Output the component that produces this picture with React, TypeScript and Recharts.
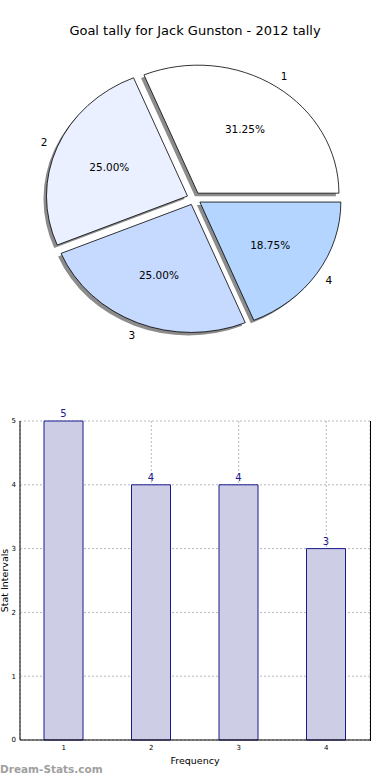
import React from 'react';
import { PieChart, Pie, Cell, BarChart, Bar, XAxis, YAxis, CartesianGrid, LabelList } from 'recharts';

const categories = ['1', '2', '3', '4'];
const goals = [5, 4, 4, 3];
const sliceColors = ['#ffffff', '#eaf0ff', '#c6d9ff', '#b3d5ff'];
const yTicks = [0, 1, 2, 3, 4, 5];
const titleText = 'Goal tally for Jack Gunston - 2012 tally';

const pieData = categories.map((c, i) => ({ name: c, value: goals[i] }));
const barData = categories.map((c, i) => ({ name: c, value: goals[i] }));
const total = goals.reduce((a, b) => a + b, 0);

const FONT = '"DejaVu Sans", sans-serif';
const Y_SCALE = 0.908;
const EXPLODE = 0.05;
const RAD = Math.PI / 180;

function ellipsePath(props: any, dx = 0, dy = 0) {
  const { cx, cy, outerRadius, startAngle, endAngle } = props;
  const rx = outerRadius;
  const ry = outerRadius * Y_SCALE;
  const mid = ((startAngle + endAngle) / 2) * RAD;
  const ox = cx + dx + EXPLODE * rx * Math.cos(mid);
  const oy = cy + dy - EXPLODE * ry * Math.sin(mid);
  const s = startAngle * RAD;
  const e = endAngle * RAD;
  const x1 = ox + rx * Math.cos(s);
  const y1 = oy - ry * Math.sin(s);
  const x2 = ox + rx * Math.cos(e);
  const y2 = oy - ry * Math.sin(e);
  const large = Math.abs(endAngle - startAngle) > 180 ? 1 : 0;
  return `M${ox},${oy} L${x1},${y1} A${rx},${ry} 0 ${large} 0 ${x2},${y2} Z`;
}

const SliceShape = (props: any) => (
  <path d={ellipsePath(props)} fill={props.fill} stroke="#000" strokeWidth={0.8} strokeLinejoin="round" />
);

const ShadowShape = (props: any) => (
  <path d={ellipsePath(props, -3, 3)} fill="#8c8c8c" stroke="none" />
);

const renderPieLabel = (props: any) => {
  const { cx, cy, outerRadius, midAngle, value, name } = props;
  const rx = outerRadius;
  const ry = outerRadius * Y_SCALE;
  const m = midAngle * RAD;
  const ox = cx + EXPLODE * rx * Math.cos(m);
  const oy = cy - EXPLODE * ry * Math.sin(m);
  const lx = ox + 1.1 * rx * Math.cos(m);
  const ly = oy - 1.1 * ry * Math.sin(m);
  const px = ox + 0.6 * rx * Math.cos(m);
  const py = oy - 0.6 * ry * Math.sin(m);
  const pct = ((value / total) * 100).toFixed(2) + '%';
  return (
    <g>
      <text x={lx} y={ly} textAnchor="middle" dominantBaseline="central" fontSize={10.5} fontFamily={FONT} fill="#000">{name}</text>
      <text x={px} y={py} textAnchor="middle" dominantBaseline="central" fontSize={10.5} fontFamily={FONT} fill="#000">{pct}</text>
    </g>
  );
};

export default function App() {
  return (
    <div style={{ position: 'absolute', left: 0, top: 0, width: 390, height: 780, background: '#fff', fontFamily: FONT }}>
      <div style={{ position: 'absolute', left: 0, top: 0 }}>
        <PieChart width={390} height={370} margin={{ top: 0, right: 0, bottom: 0, left: 0 }}>
          <text x={195} y={30} textAnchor="middle" dominantBaseline="central" fontSize={13} fontFamily={FONT} fill="#000">{titleText}</text>
          <Pie data={pieData} dataKey="value" nameKey="name" cx={194} cy={198.5} outerRadius={141} startAngle={0} endAngle={360}
            isAnimationActive={false} shape={ShadowShape} labelLine={false} label={false} stroke="none">
            {pieData.map((d, i) => <Cell key={'s' + i} fill="#8c8c8c" />)}
          </Pie>
          <Pie data={pieData} dataKey="value" nameKey="name" cx={194} cy={198.5} outerRadius={141} startAngle={0} endAngle={360}
            isAnimationActive={false} shape={SliceShape} labelLine={false} label={renderPieLabel}>
            {pieData.map((d, i) => <Cell key={'c' + i} fill={sliceColors[i]} />)}
          </Pie>
        </PieChart>
      </div>
      <div style={{ position: 'absolute', left: 0, top: 380 }}>
        <BarChart width={390} height={400} data={barData} margin={{ top: 41, right: 20, left: 0, bottom: 14 }} barCategoryGap={0}>
          <CartesianGrid stroke="#b8b8b8" strokeDasharray="2 2" />
          <XAxis dataKey="name" height={26} tickSize={0} tickMargin={5} axisLine={{ stroke: '#000' }}
            tick={{ fontSize: 7, fill: '#000', fontFamily: FONT }}
            label={{ value: 'Frequency', position: 'insideBottom', offset: 2, fontSize: 9.5, fill: '#000', fontFamily: FONT }} />
          <XAxis xAxisId="top" orientation="top" dataKey="name" height={0} tick={false} tickLine={false} axisLine={{ stroke: '#000' }} />
          <YAxis domain={[0, 5]} ticks={yTicks} width={20} tickSize={0} tickMargin={4} axisLine={{ stroke: '#000' }}
            tick={{ fontSize: 7, fill: '#000', fontFamily: FONT }}
            label={{ value: 'Stat Intervals', angle: -90, position: 'center', dx: -5, fontSize: 9.5, fill: '#000', fontFamily: FONT }} />
          <YAxis yAxisId="right" orientation="right" width={0} tick={false} tickLine={false} axisLine={{ stroke: '#000' }} domain={[0, 5]} />
          <Bar dataKey="value" barSize={39} fill="#cdcde5" stroke="#1a1a8c" strokeWidth={1} isAnimationActive={false}>
            <LabelList dataKey="value" position="top" offset={4} fill="#1a1a8c" fontSize={10} fontFamily={FONT} />
          </Bar>
        </BarChart>
      </div>
      <div style={{ position: 'absolute', left: 369.5, top: 421, width: 1, height: 320, background: '#000' }} />
      <div style={{ position: 'absolute', left: 0, top: 763, fontSize: 10.5, fontWeight: 'bold', color: '#a0a0a0', fontFamily: FONT }}>Dream-Stats.com</div>
    </div>
  );
}
